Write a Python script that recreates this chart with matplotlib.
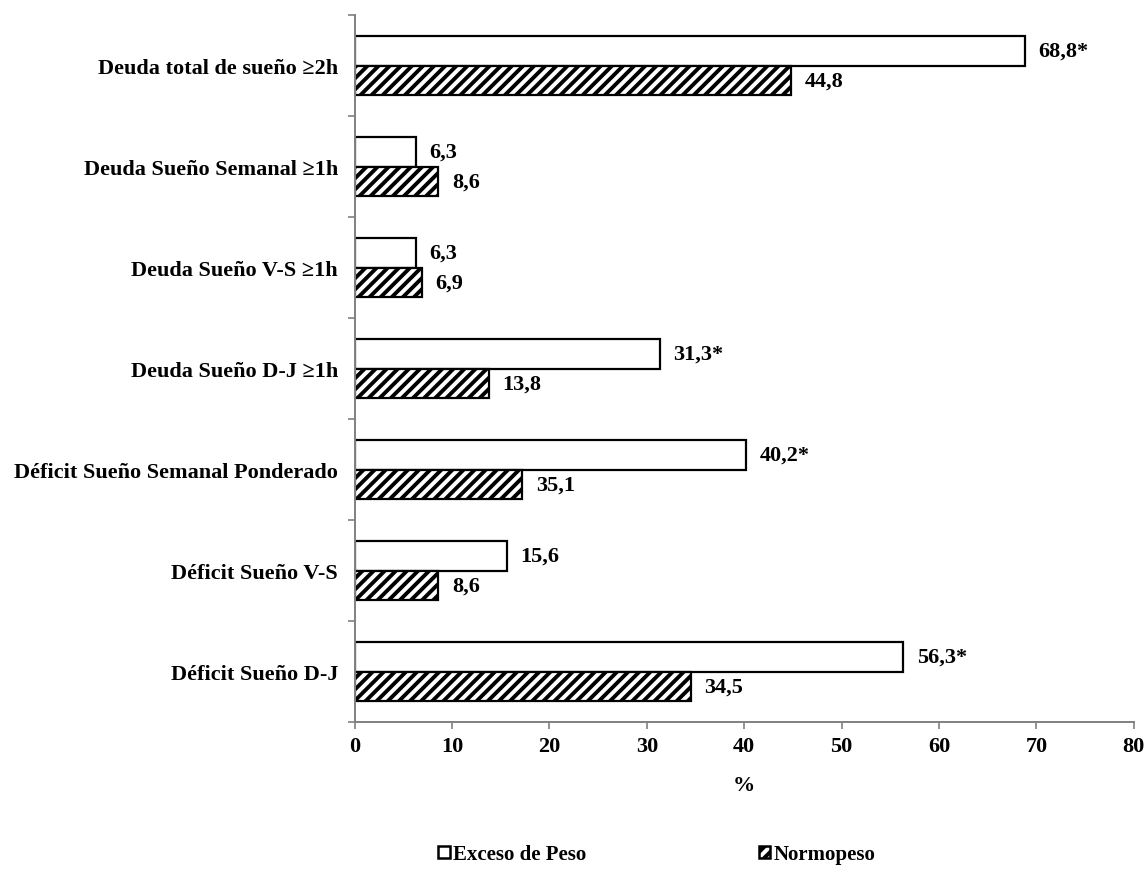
import numpy as np
import matplotlib.pyplot as plt
from matplotlib.patches import Patch

# categories, top to bottom
categories = [
    'Deuda total de sueño ≥2h',
    'Deuda Sueño Semanal ≥1h',
    'Deuda Sueño V-S ≥1h',
    'Deuda Sueño D-J ≥1h',
    'Déficit Sueño Semanal Ponderado',
    'Déficit Sueño V-S',
    'Déficit Sueño D-J',
]
exceso = [68.8, 6.3, 6.3, 31.3, 40.2, 15.6, 56.3]
normo = [44.8, 8.6, 6.9, 13.8, 17.2, 8.6, 34.5]
exceso_labels = ['68,8*', '6,3', '6,3', '31,3*', '40,2*', '15,6', '56,3*']
normo_labels = ['44,8', '8,6', '6,9', '13,8', '35,1', '8,6', '34,5']
x_ticks = [0, 10, 20, 30, 40, 50, 60, 70, 80]

plt.rcParams['font.family'] = ['Liberation Serif', 'DejaVu Serif']
plt.rcParams['font.weight'] = 'bold'
plt.rcParams['hatch.linewidth'] = 2.8

fig = plt.figure(figsize=(11.48, 8.78), dpi=100)
ax = fig.add_axes([0.309, 0.1765, 0.6786, 0.805])

y = np.arange(len(categories))
h = 0.29
ax.barh(y - h / 2, exceso, height=h, color='white', edgecolor='black', linewidth=1.6)
ax.barh(y + h / 2, normo, height=h, color='white', edgecolor='black', linewidth=1.6, hatch='///')

# value labels
for i in range(len(categories)):
    ax.text(exceso[i] + 1.4, y[i] - h / 2, exceso_labels[i], va='center', ha='left',
            fontsize=16, fontweight='bold')
    ax.text(normo[i] + 1.4, y[i] + h / 2, normo_labels[i], va='center', ha='left',
            fontsize=16, fontweight='bold')

ax.set_xlim(0, 80)
ax.set_ylim(len(categories) - 0.5, -0.5)
ax.set_xticks(x_ticks)
ax.set_xticklabels([str(t) for t in x_ticks], fontsize=16, fontweight='bold')
ax.set_yticks(np.arange(len(categories) + 1) - 0.5)
ax.set_yticklabels([])
ax.set_yticks(y, minor=True)
ax.set_yticklabels(categories, minor=True, fontsize=16, fontweight='bold')
ax.tick_params(axis='y', which='minor', length=0, pad=12)
ax.tick_params(axis='y', which='major', length=5, color='#808080', width=1.2)
ax.tick_params(axis='x', length=5, color='#808080', width=1.2, pad=5)

for s in ['top', 'right']:
    ax.spines[s].set_visible(False)
for s in ['left', 'bottom']:
    ax.spines[s].set_color('#808080')
    ax.spines[s].set_linewidth(1.4)

ax.set_xlabel('%', fontsize=16, fontweight='bold', labelpad=14)

handles = [Patch(facecolor='white', edgecolor='black', linewidth=1.8, label='Exceso de Peso'),
           Patch(facecolor='white', edgecolor='black', linewidth=1.8, hatch='///', label='Normopeso')]
fig.legend(handles=handles, loc='center', bbox_to_anchor=(0.572, 0.026), ncol=2, frameon=False,
           handlelength=0.55, handleheight=0.55, handletextpad=0.15, columnspacing=8.3,
           prop={'family': 'Liberation Serif', 'weight': 'bold', 'size': 15})

fig.savefig('out.png', dpi=100)
